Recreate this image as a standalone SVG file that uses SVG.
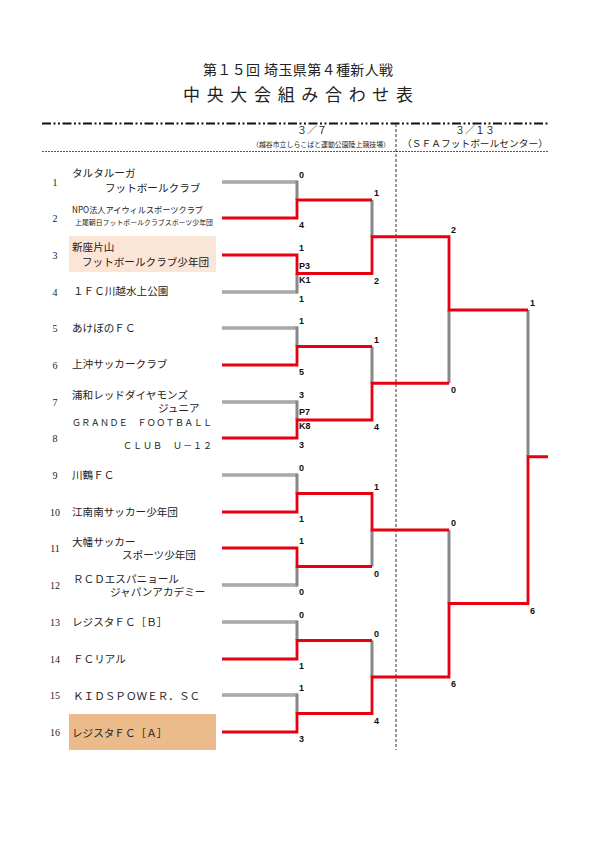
<svg xmlns="http://www.w3.org/2000/svg" width="596" height="842" viewBox="0 0 596 842">
<style>
.jp{font-family:"Noto Sans CJK JP","Liberation Serif",sans-serif;fill:#222;}
.num{font-family:"Liberation Serif",serif;font-size:10px;fill:#222;text-anchor:middle;}
.nm{font-size:10.6px;}
.sc{font-family:"Liberation Sans",Arial,sans-serif;font-weight:bold;font-size:9px;fill:#111;}
.gh{fill:none;stroke:#777;stroke-width:3.2;}
.ghi{fill:none;stroke:#e8e8e8;stroke-width:0.9;}
.gv{fill:none;stroke:#888;stroke-width:3;}
.rd{fill:none;stroke:#e60012;stroke-width:2.8;stroke-linejoin:miter;}
</style>
<rect width="596" height="842" fill="#fff"/>
<g id="title">
<text class="jp" x="298" y="75" font-size="14" text-anchor="middle" textLength="190" lengthAdjust="spacing">第１５回 埼玉県第４種新人戦</text>
<text class="jp" x="183" y="101" font-size="17" textLength="230" lengthAdjust="spacing">中央大会組み合わせ表</text>
</g>
<g id="header">
<path d="M42,123.5 H548" stroke="#111" stroke-width="2" stroke-dasharray="9 2.5 2 2.5 2 2.5"/>
<path d="M42,151.5 H548" stroke="#444" stroke-width="0.9" stroke-dasharray="2 1"/>
<path d="M396,124 V750" stroke="#333" stroke-width="1" stroke-dasharray="3 2"/>
<text class="jp" x="312" y="134" font-size="10" text-anchor="middle">３／７</text>
<text class="jp" x="252" y="146.5" font-size="6.9" textLength="138" lengthAdjust="spacingAndGlyphs">（越谷市立しらこばと運動公園陸上競技場）</text>
<text class="jp" x="475" y="134" font-size="10" text-anchor="middle">３／１３</text>
<text class="jp" x="402" y="147" font-size="9.5" textLength="146" lengthAdjust="spacingAndGlyphs">（ＳＦＡフットボールセンター）</text>
</g>
<g id="team1"><text class="num" x="55" y="185.5">1</text><text class="jp nm" x="72" y="177">タルタルーガ</text><text class="jp nm" x="105" y="192">フットボールクラブ</text></g>
<g id="team2"><text class="num" x="55" y="221.5">2</text><text class="jp" x="72" y="213" font-size="8.5" textLength="131" lengthAdjust="spacingAndGlyphs">NPO法人アイウィルスポーツクラブ</text><text class="jp" x="75" y="224.5" font-size="6.9" textLength="138" lengthAdjust="spacingAndGlyphs">上尾朝日フットボールクラブスポーツ少年団</text></g>
<g id="team3"><rect x="69" y="236" width="147" height="36" fill="#fbe5d6"/><text class="num" x="55" y="258.5">3</text><text class="jp nm" x="72" y="251">新座片山</text><text class="jp nm" x="82" y="266">フットボールクラブ少年団</text></g>
<g id="team4"><text class="num" x="55" y="295.5">4</text><text class="jp nm" x="73" y="295">１ＦＣ川越水上公園</text></g>
<g id="team5"><text class="num" x="55" y="331.5">5</text><text class="jp nm" x="72" y="332">あけぼのＦＣ</text></g>
<g id="team6"><text class="num" x="55" y="368.5">6</text><text class="jp nm" x="72" y="368">上沖サッカークラブ</text></g>
<g id="team7"><text class="num" x="55" y="405.5">7</text><text class="jp nm" x="72" y="399">浦和レッドダイヤモンズ</text><text class="jp nm" x="158" y="412">ジュニア</text></g>
<g id="team8"><text class="num" x="55" y="441.5">8</text><text class="jp" x="72" y="425.5" font-size="9" textLength="140" lengthAdjust="spacing">ＧＲＡＮＤＥ　ＦＯＯＴＢＡＬＬ</text><text class="jp" x="123" y="448.5" font-size="9" textLength="89" lengthAdjust="spacing">ＣＬＵＢ　Ｕ－１２</text></g>
<g id="team9"><text class="num" x="55" y="478.5">9</text><text class="jp nm" x="72" y="479">川鶴ＦＣ</text></g>
<g id="team10"><text class="num" x="55" y="515.5">10</text><text class="jp nm" x="72" y="516">江南南サッカー少年団</text></g>
<g id="team11"><text class="num" x="55" y="551.5">11</text><text class="jp nm" x="72" y="546">大幡サッカー</text><text class="jp nm" x="122" y="559">スポーツ少年団</text></g>
<g id="team12"><text class="num" x="55" y="588.5">12</text><text class="jp nm" x="73" y="583">ＲＣＤエスパニョール</text><text class="jp nm" x="110" y="596">ジャパンアカデミー</text></g>
<g id="team13"><text class="num" x="55" y="625.5">13</text><text class="jp nm" x="72" y="626">レジスタＦＣ［Ｂ］</text></g>
<g id="team14"><text class="num" x="55" y="662.5">14</text><text class="jp nm" x="73" y="663">ＦＣリアル</text></g>
<g id="team15"><text class="num" x="55" y="698.5">15</text><text class="jp nm" x="73" y="700">ＫＩＤＳＰＯＷＥＲ．ＳＣ</text></g>
<g id="team16"><rect x="69" y="714" width="147" height="36" fill="#ecbb8c"/><text class="num" x="55" y="735.5">16</text><text class="jp nm" x="72" y="737">レジスタＦＣ［Ａ］</text></g>
<g id="connectors">
<path class="gh" d="M222,182 H297 M222,292 H297 M222,328 H297 M222,402 H297 M222,475 H297 M222,585 H297 M222,622 H297 M222,695 H297"/>
<path class="ghi" d="M222,182 H296 M222,292 H296 M222,328 H296 M222,402 H296 M222,475 H296 M222,585 H296 M222,622 H296 M222,695 H296"/>
<path class="gv" d="M297,180.5 V200 M297,273.5 V293.5 M297,326.5 V346.5 M297,400.5 V420 M297,473.5 V493.5 M297,566.5 V586.5 M297,620.5 V640.5 M297,693.5 V713.5"/>
<path class="gv" d="M372,200 V236.75 M372,346.5 V383.25 M372,530 V566.5 M372,640.5 V677"/>
<path class="gv" d="M449,310 V383.25 M449,530 V603.5 M528,310 V456.75"/>
<path class="rd" d="M222,218 H297 V200 H372"/>
<path class="rd" d="M222,255 H297 V273.5 H372 V236.75 H449 V310 H528"/>
<path class="rd" d="M222,365 H297 V346.5 H372"/>
<path class="rd" d="M222,438 H297 V420 H372 V383.25 H449"/>
<path class="rd" d="M222,512 H297 V493.5 H372 V530 H449"/>
<path class="rd" d="M222,548 H297 V566.5 H372"/>
<path class="rd" d="M222,659 H297 V640.5 H372"/>
<path class="rd" d="M222,732 H297 V713.5 H372 V677 H449 V603.5 H528 V456.75 H548"/>
</g>
<g id="scores">
<text class="sc" x="299" y="178">0</text><text class="sc" x="299" y="228">4</text>
<text class="sc" x="299" y="251">1</text><text class="sc" x="299" y="269">P3</text><text class="sc" x="299" y="283">K1</text><text class="sc" x="299" y="302">1</text>
<text class="sc" x="299" y="324">1</text><text class="sc" x="299" y="375">5</text>
<text class="sc" x="299" y="398">3</text><text class="sc" x="299" y="415">P7</text><text class="sc" x="299" y="429">K8</text><text class="sc" x="299" y="448">3</text>
<text class="sc" x="299" y="471">0</text><text class="sc" x="299" y="522">1</text>
<text class="sc" x="299" y="544">1</text><text class="sc" x="299" y="595">0</text>
<text class="sc" x="299" y="618">0</text><text class="sc" x="299" y="669">1</text>
<text class="sc" x="299" y="691">1</text><text class="sc" x="299" y="742">3</text>
<text class="sc" x="374" y="196">1</text><text class="sc" x="374" y="283.5">2</text>
<text class="sc" x="374" y="342.5">1</text><text class="sc" x="374" y="430">4</text>
<text class="sc" x="374" y="489.5">1</text><text class="sc" x="374" y="576.5">0</text>
<text class="sc" x="374" y="636.5">0</text><text class="sc" x="374" y="723.5">4</text>
<text class="sc" x="451" y="233">2</text><text class="sc" x="451" y="393">0</text>
<text class="sc" x="451" y="526">0</text><text class="sc" x="451" y="687">6</text>
<text class="sc" x="530" y="306">1</text><text class="sc" x="530" y="613.5">6</text>
</g>
</svg>
